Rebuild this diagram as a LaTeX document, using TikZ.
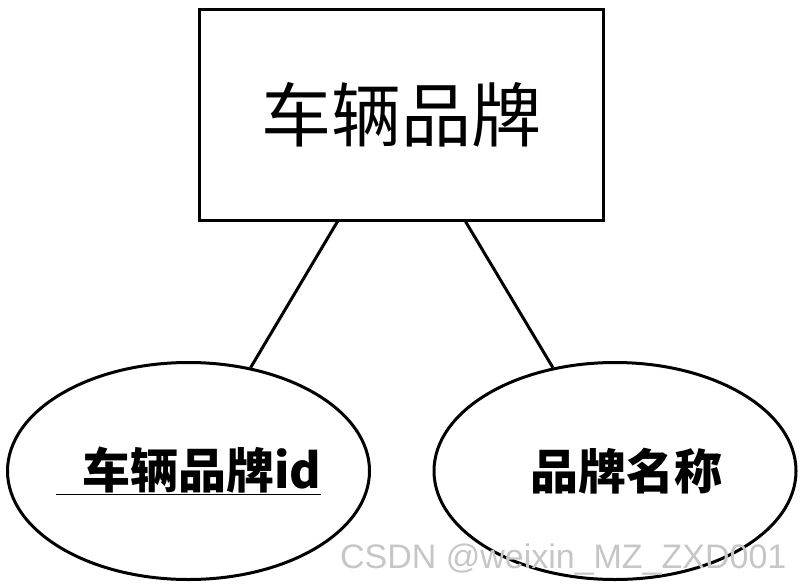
\documentclass[tikz,border=0pt]{standalone}
\usepackage{fontspec}
\usetikzlibrary{shapes.geometric}
\newfontfamily\cjk{Noto Sans CJK SC}
\newfontfamily\markfont{Liberation Sans}
\newcommand{\bigSize}[0]{\fontsize{70}{70}\selectfont}
\newcommand{\attrSize}[0]{\fontsize{48}{48}\selectfont}

\begin{document}
\begin{tikzpicture}[x=1pt, y=-1pt]
  \tikzset{entity/.style={draw, line width=3pt, minimum width=404pt, minimum height=210pt, inner sep=0pt, font=\cjk\bigSize},
    attribute/.style={draw, ellipse, line width=3pt, minimum width=362pt, minimum height=217pt, inner sep=0pt, font=\cjk\bfseries\attrSize},
    link/.style={line width=3pt}}
  \useasboundingbox (0,0) rectangle (802,586);
  % entity
  \node[entity] (brand) at (401.5,115) {车辆品牌};
  % attributes
  \node[attribute] (brandid) at (188.5,471) {\makebox[0pt]{\underline{\hspace{26pt}车辆品牌id}}};
  \node[attribute] (brandname) at (615,471) {\makebox[0pt]{\hspace{22pt}品牌名称}};
  % links
  \draw[link] (brand.239) -- (brandid.59);
  \draw[link] (brand.301) -- (brandname.121);
  % watermark
  \node[text=gray!45, font=\markfont\fontsize{34}{34}\selectfont, anchor=east] (mark) at (790,560) {CSDN @weixin\_MZ\_ZXD001};
\end{tikzpicture}
\end{document}
